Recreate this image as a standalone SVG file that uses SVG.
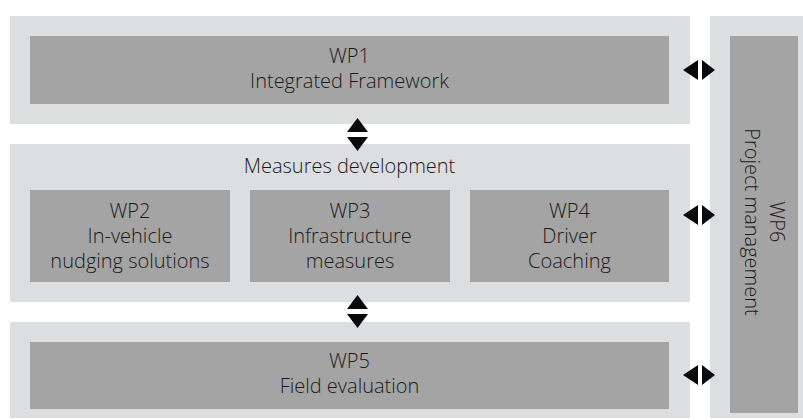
<svg xmlns="http://www.w3.org/2000/svg" width="803" height="420" viewBox="0 0 803 420">
<style>
.outer{fill:#DDDEE0}
.inner{fill:#A4A4A4}
text{font-family:"Open Sans","Liberation Sans",sans-serif;font-weight:300;font-size:20px;fill:#1a1a1a;text-anchor:middle}
.arr{fill:#0a0a0a}
</style>
<rect width="803" height="420" fill="#ffffff"/>
<g id="wp1-container">
<rect class="outer" x="10" y="16" width="680" height="108"/>
</g>
<g id="wp1">
<rect class="inner" x="30" y="36" width="639" height="68"/>
<text x="349.5" y="63">WP1</text>
<text x="349.5" y="88">Integrated Framework</text>
</g>
<g id="measures">
<rect class="outer" x="10" y="144" width="680" height="158"/>
<text x="349.5" y="173">Measures development</text>
</g>
<g id="wp2">
<rect class="inner" x="30" y="190" width="200" height="92"/>
<text x="130" y="218">WP2</text>
<text x="130" y="243">In-vehicle</text>
<text x="130" y="268">nudging solutions</text>
</g>
<g id="wp3">
<rect class="inner" x="250" y="190" width="200" height="92"/>
<text x="350" y="218">WP3</text>
<text x="350" y="243">Infrastructure</text>
<text x="350" y="268">measures</text>
</g>
<g id="wp4">
<rect class="inner" x="470" y="190" width="199" height="92"/>
<text x="569.5" y="218">WP4</text>
<text x="569.5" y="243">Driver</text>
<text x="569.5" y="268">Coaching</text>
</g>
<g id="wp5-container">
<rect class="outer" x="10" y="322" width="680" height="96"/>
</g>
<g id="wp5">
<rect class="inner" x="30" y="342" width="639" height="67"/>
<text x="349.5" y="368">WP5</text>
<text x="349.5" y="393">Field evaluation</text>
</g>
<g id="wp6">
<rect class="outer" x="710" y="16" width="100" height="402"/>
<rect class="inner" x="730" y="36" width="68" height="377"/>
<g transform="translate(764,222) rotate(90)">
<text x="0" y="-6">WP6</text>
<text x="0" y="19">Project management</text>
</g>
</g>
<g id="connectors">
<polygon class="arr" points="357.5,118 368,132 347,132"/>
<polygon class="arr" points="347,137 368,137 357.5,151"/>
<polygon class="arr" points="357.5,295 368,309 347,309"/>
<polygon class="arr" points="347,314 368,314 357.5,328"/>
<polygon class="arr" points="683,70 698,60 698,80"/>
<polygon class="arr" points="702,60 702,80 715,70"/>
<polygon class="arr" points="683,215 698,205 698,225"/>
<polygon class="arr" points="702,205 702,225 715,215"/>
<polygon class="arr" points="683,375 698,365 698,385"/>
<polygon class="arr" points="702,365 702,385 715,375"/>
</g>
</svg>
